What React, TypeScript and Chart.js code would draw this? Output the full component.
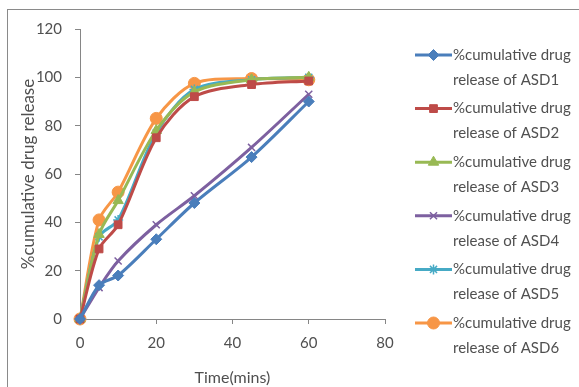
import React, { useEffect, useRef } from "react";
import { Chart, registerables } from "chart.js";
import { drawPoint } from "chart.js/helpers";

Chart.register(...registerables);

const timeMins = [0, 5, 10, 20, 30, 45, 60];
const asd1 = [0, 14, 18, 33, 48, 67, 90];
const asd2 = [0, 29, 39, 75, 92, 97, 98.5];
const asd3 = [0, 35, 49, 78, 94, 99, 100];
const asd4 = [0, 13, 24, 39, 51, 71, 93];
const asd5 = [0, 34, 41, 77, 95, 99, 100];
const asd6 = [0, 41, 52.5, 83, 97.5, 99.5, 99];
const seriesNames = ["ASD1", "ASD2", "ASD3", "ASD4", "ASD5", "ASD6"];
const seriesValues = [asd1, asd2, asd3, asd4, asd5, asd6];
const seriesColors = ["#4A7EBB", "#BE4B48", "#98B954", "#7D60A0", "#46AAC5", "#F79646"];
const seriesMarkers = ["rectRot", "rect", "triangle", "crossRot", "star", "circle"];
const markerSizes = [5.5, 5.5, 6, 5, 5, 6];
const xTicks = { min: 0, max: 80, step: 20 };
const yTicks = { min: 0, max: 120, step: 20 };

const FONT = "Lato, 'Open Sans', sans-serif";
const TEXT = "#505050";
const AXIS = "#868686";

const framePlugin = {
  id: "frameAndLegend",
  beforeDraw(chart: any) {
    const ctx = chart.ctx;
    ctx.save();
    ctx.fillStyle = "#ffffff";
    ctx.fillRect(0, 0, chart.width, chart.height);
    ctx.strokeStyle = "#8a8a8a";
    ctx.lineWidth = 1;
    ctx.strokeRect(7.5, 9.5, 700, 500);
    ctx.restore();
  },
  afterDraw(chart: any) {
    const ctx = chart.ctx;
    ctx.save();
    chart.data.datasets.forEach((ds: any, i: number) => {
      const y0 = 55 + i * 53.6;
      ctx.strokeStyle = ds.borderColor;
      ctx.fillStyle = ds.borderColor;
      ctx.lineWidth = 3;
      ctx.beginPath();
      ctx.moveTo(415, y0);
      ctx.lineTo(452, y0);
      ctx.stroke();
      ctx.lineWidth = ds.pointBorderWidth;
      drawPoint(
        ctx,
        { pointStyle: ds.pointStyle, radius: ds.pointRadius, rotation: 0, borderWidth: ds.pointBorderWidth } as any,
        433.5,
        y0
      );
      ctx.fillStyle = TEXT;
      ctx.font = `15px ${FONT}`;
      ctx.textAlign = "left";
      ctx.textBaseline = "middle";
      ctx.fillText("%cumulative drug", 453, y0);
      ctx.fillText("release of " + seriesNames[i], 453, y0 + 25);
    });
    ctx.restore();
  },
};

export default function App() {
  const ref = useRef<HTMLCanvasElement>(null);
  useEffect(() => {
    if (!ref.current) return;
    const datasets = seriesNames.map((name, i) => ({
      label: "%cumulative drug release of " + name,
      data: timeMins.map((t, j) => ({ x: t, y: seriesValues[i][j] })),
      borderColor: seriesColors[i],
      backgroundColor: seriesColors[i],
      pointBackgroundColor: seriesColors[i],
      pointBorderColor: seriesColors[i],
      pointStyle: seriesMarkers[i],
      pointRadius: markerSizes[i],
      pointBorderWidth: seriesMarkers[i] === "crossRot" || seriesMarkers[i] === "star" ? 1.5 : 1,
      borderWidth: 3,
      tension: 0.3,
      clip: false as any,
    }));
    const chart = new Chart(ref.current, {
      type: "line",
      data: { datasets },
      plugins: [framePlugin as any],
      options: {
        animation: false,
        responsive: false,
        maintainAspectRatio: false,
        layout: { padding: { top: 29, right: 194, bottom: 0, left: 0 } },
        plugins: { legend: { display: false }, tooltip: { enabled: false } },
        scales: {
          x: {
            type: "linear",
            min: xTicks.min,
            max: xTicks.max,
            ticks: { stepSize: xTicks.step, color: TEXT, font: { family: FONT, size: 15 }, padding: 10 },
            grid: { drawOnChartArea: false, drawTicks: true, tickLength: 5, color: AXIS },
            border: { color: AXIS, width: 1 },
            title: {
              display: true,
              text: "Time(mins)",
              color: TEXT,
              font: { family: FONT, size: 16 },
              padding: { top: 0, bottom: 0 },
            },
            afterFit: (s: any) => {
              s.height = 68;
            },
          },
          y: {
            min: yTicks.min,
            max: yTicks.max,
            ticks: { stepSize: yTicks.step, color: TEXT, font: { family: FONT, size: 15 }, padding: 13 },
            grid: { drawOnChartArea: false, drawTicks: true, tickLength: 5, color: AXIS },
            border: { color: AXIS, width: 1 },
            title: {
              display: true,
              text: "%cumulative drug release",
              color: TEXT,
              font: { family: FONT, size: 17 },
              padding: { top: 18, bottom: 0 },
            },
            afterFit: (s: any) => {
              s.width = 80;
            },
          },
        },
      },
    });
    return () => chart.destroy();
  }, []);
  return (
    <div style={{ position: "fixed", left: 0, top: 0, width: 579, height: 387 }}>
      <canvas ref={ref} width={579} height={387} style={{ display: "block" }} />
    </div>
  );
}
